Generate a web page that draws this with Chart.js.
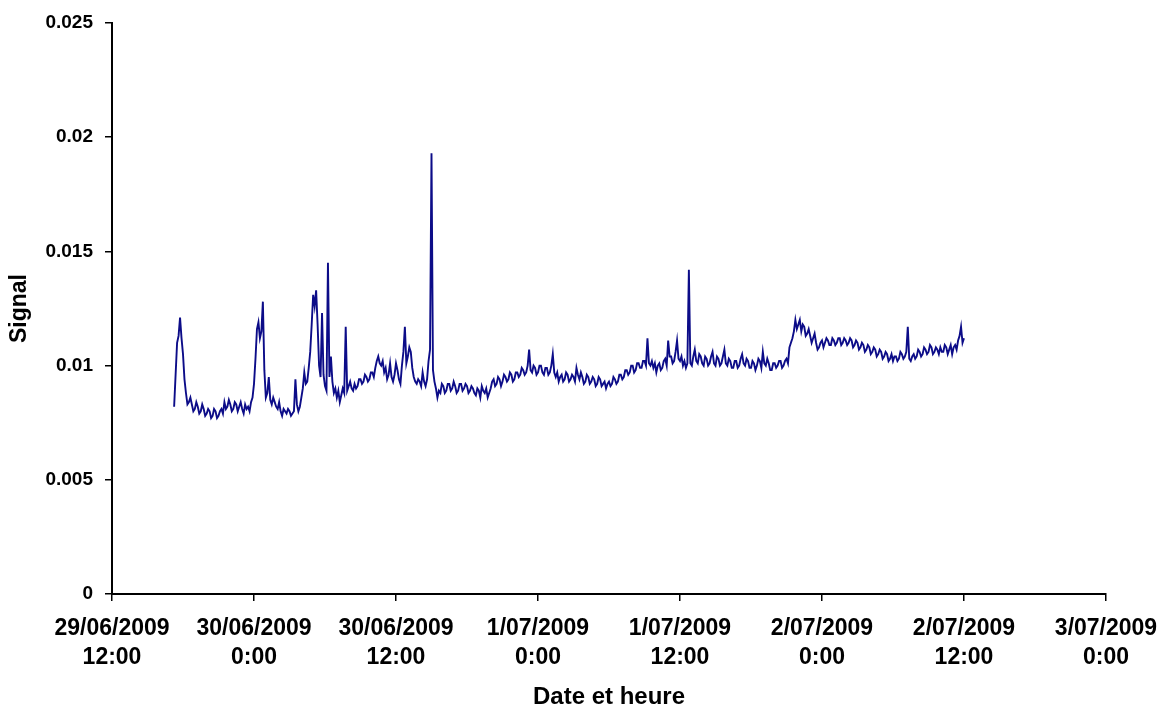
<!DOCTYPE html>
<html>
<head>
<meta charset="utf-8">
<script src="https://cdn.jsdelivr.net/npm/chart.js@4/dist/chart.umd.min.js"></script>
<style>
  html, body { margin: 0; padding: 0; background: #ffffff; }
  #wrap { width: 1163px; height: 709px; position: relative; }
</style>
</head>
<body>
<div id="wrap"><canvas id="c" width="1163" height="709"></canvas></div>
<script>
// Time axis: hours after 29/06/2009 12:00
const xTickLabels = [
  ['29/06/2009', '12:00'], ['30/06/2009', '0:00'], ['30/06/2009', '12:00'], ['1/07/2009', '0:00'],
  ['1/07/2009', '12:00'], ['2/07/2009', '0:00'], ['2/07/2009', '12:00'], ['3/07/2009', '0:00']
];
const yTickLabels = ['0', '0.005', '0.01', '0.015', '0.02', '0.025'];

// Logger samples every 7.5 minutes starting 29/06/2009 17:15 (5.25 h)
const sampleStartHour = 5.25;
const sampleStepHour = 0.125;

const signal = [
  0.0082, 0.0096, 0.0110, 0.0113, 0.0121, 0.0112, 0.0105, 0.0094, 0.0088, 0.0083,
  0.0084, 0.0086, 0.0083, 0.0080, 0.0081, 0.0084, 0.0082, 0.0079, 0.0080, 0.0083,
  0.0081, 0.0078, 0.0079, 0.0081, 0.0080, 0.0077, 0.0078, 0.0081, 0.0080, 0.0077,
  0.0078, 0.0080, 0.0081, 0.0079, 0.0084, 0.0081, 0.0082, 0.0085, 0.0083, 0.0080,
  0.0081, 0.0084, 0.0083, 0.0080, 0.0082, 0.0084, 0.0081, 0.0079, 0.0083, 0.0081,
  0.0082, 0.0080, 0.0084, 0.0086, 0.0092, 0.0103, 0.0116, 0.0119, 0.0112, 0.0115,
  0.0128, 0.0098, 0.0086, 0.0088, 0.0095, 0.0085, 0.0083, 0.0086, 0.0084, 0.0082,
  0.0081, 0.0084, 0.0080, 0.0078, 0.0081, 0.0080, 0.0079, 0.0081, 0.0080, 0.0078,
  0.0079, 0.0080, 0.0094, 0.0083, 0.0080, 0.0082, 0.0086, 0.0090, 0.0097, 0.0092,
  0.0093, 0.0099, 0.0106, 0.0118, 0.0131, 0.0126, 0.0133, 0.0118, 0.0100, 0.0095,
  0.0123, 0.0096, 0.0091, 0.0089, 0.0145, 0.0095, 0.0104, 0.0093, 0.0088, 0.0090,
  0.0086, 0.0089, 0.0084, 0.0087, 0.0090, 0.0088, 0.0117, 0.0089, 0.0091, 0.0093,
  0.0090, 0.0089, 0.0092, 0.0090, 0.0091, 0.0094, 0.0094, 0.0092, 0.0093, 0.0096,
  0.0095, 0.0093, 0.0094, 0.0097, 0.0097, 0.0095, 0.0099, 0.0102, 0.0104, 0.0101,
  0.0100, 0.0102, 0.0097, 0.0099, 0.0094, 0.0096, 0.0101, 0.0095, 0.0093, 0.0096,
  0.0101, 0.0098, 0.0094, 0.0092, 0.0100, 0.0106, 0.0117, 0.0101, 0.0104, 0.0108,
  0.0106, 0.0099, 0.0095, 0.0093, 0.0092, 0.0094, 0.0093, 0.0091, 0.0097, 0.0093,
  0.0091, 0.0094, 0.0102, 0.0107, 0.0193, 0.0098, 0.0093, 0.0090, 0.0086, 0.0089,
  0.0088, 0.0092, 0.0091, 0.0088, 0.0089, 0.0092, 0.0092, 0.0089, 0.0090, 0.0093,
  0.0091, 0.0088, 0.0089, 0.0092, 0.0092, 0.0089, 0.0090, 0.0092, 0.0091, 0.0088,
  0.0089, 0.0091, 0.0090, 0.0088, 0.0087, 0.0090, 0.0089, 0.0086, 0.0091, 0.0089,
  0.0088, 0.0090, 0.0086, 0.0088, 0.0090, 0.0093, 0.0094, 0.0091, 0.0092, 0.0095,
  0.0094, 0.0091, 0.0093, 0.0096, 0.0095, 0.0093, 0.0094, 0.0097, 0.0096, 0.0093,
  0.0094, 0.0097, 0.0097, 0.0095, 0.0096, 0.0099, 0.0098, 0.0096, 0.0097, 0.0100,
  0.0107, 0.0098, 0.0097, 0.0100, 0.0099, 0.0096, 0.0097, 0.0100, 0.0100, 0.0097,
  0.0096, 0.0099, 0.0099, 0.0096, 0.0097, 0.0100, 0.0105, 0.0097, 0.0095, 0.0097,
  0.0093, 0.0095, 0.0096, 0.0093, 0.0094, 0.0097, 0.0096, 0.0093, 0.0094, 0.0096,
  0.0095, 0.0093, 0.0099, 0.0096, 0.0094, 0.0097, 0.0095, 0.0092, 0.0093, 0.0096,
  0.0095, 0.0092, 0.0093, 0.0095, 0.0094, 0.0091, 0.0092, 0.0095, 0.0094, 0.0091,
  0.0092, 0.0093, 0.0090, 0.0092, 0.0093, 0.0091, 0.0092, 0.0095, 0.0094, 0.0092,
  0.0093, 0.0096, 0.0096, 0.0094, 0.0095, 0.0098, 0.0098, 0.0096, 0.0097, 0.0100,
  0.0100, 0.0097, 0.0098, 0.0101, 0.0101, 0.0099, 0.0099, 0.0102, 0.0102, 0.0100,
  0.0112, 0.0101, 0.0100, 0.0102, 0.0099, 0.0101, 0.0097, 0.0100, 0.0101, 0.0098,
  0.0099, 0.0102, 0.0103, 0.0100, 0.0111, 0.0104, 0.0104, 0.0101, 0.0102, 0.0106,
  0.0111, 0.0103, 0.0102, 0.0104, 0.0100, 0.0102, 0.0099, 0.0101, 0.0142, 0.0101,
  0.0100, 0.0104, 0.0107, 0.0102, 0.0101, 0.0105, 0.0104, 0.0101, 0.0100, 0.0104,
  0.0103, 0.0100, 0.0101, 0.0104, 0.0106, 0.0101, 0.0100, 0.0104, 0.0103, 0.0100,
  0.0101, 0.0104, 0.0107, 0.0101, 0.0100, 0.0103, 0.0102, 0.0099, 0.0099, 0.0102,
  0.0102, 0.0099, 0.0100, 0.0103, 0.0105, 0.0101, 0.0100, 0.0103, 0.0102, 0.0099,
  0.0099, 0.0102, 0.0101, 0.0098, 0.0100, 0.0103, 0.0102, 0.0099, 0.0106, 0.0101,
  0.0100, 0.0103, 0.0101, 0.0098, 0.0098, 0.0101, 0.0101, 0.0099, 0.0100, 0.0102,
  0.0102, 0.0099, 0.0100, 0.0102, 0.0103, 0.0101, 0.0108, 0.0110, 0.0112, 0.0115,
  0.0120, 0.0116, 0.0118, 0.0120, 0.0115, 0.0118, 0.0117, 0.0113, 0.0114, 0.0116,
  0.0113, 0.0110, 0.0112, 0.0114, 0.0110, 0.0107, 0.0108, 0.0110, 0.0111, 0.0108,
  0.0110, 0.0112, 0.0111, 0.0109, 0.0109, 0.0112, 0.0111, 0.0109, 0.0110, 0.0112,
  0.0112, 0.0109, 0.0110, 0.0112, 0.0111, 0.0109, 0.0110, 0.0112, 0.0111, 0.0108,
  0.0109, 0.0111, 0.0110, 0.0107, 0.0108, 0.0110, 0.0109, 0.0106, 0.0107, 0.0109,
  0.0108, 0.0105, 0.0106, 0.0108, 0.0107, 0.0104, 0.0105, 0.0107, 0.0106, 0.0103,
  0.0104, 0.0106, 0.0105, 0.0102, 0.0103, 0.0105, 0.0102, 0.0104, 0.0104, 0.0102,
  0.0103, 0.0106, 0.0105, 0.0103, 0.0104, 0.0106, 0.0117, 0.0103, 0.0102, 0.0104,
  0.0105, 0.0103, 0.0104, 0.0107, 0.0106, 0.0104, 0.0105, 0.0108, 0.0107, 0.0105,
  0.0106, 0.0109, 0.0108, 0.0105, 0.0106, 0.0108, 0.0107, 0.0105, 0.0108, 0.0106,
  0.0106, 0.0109, 0.0108, 0.0105, 0.0107, 0.0109, 0.0105, 0.0108, 0.0109, 0.0107,
  0.0111, 0.0113, 0.0117, 0.0110, 0.0112
];

const points = signal.map((v, i) => ({ x: sampleStartHour + i * sampleStepHour, y: v }));

const FONT = "'Liberation Sans', Arial, sans-serif";

new Chart(document.getElementById('c'), {
  type: 'line',
  data: {
    datasets: [{
      data: points,
      borderColor: '#0c0c88',
      borderWidth: 1.9,
      pointRadius: 0,
      tension: 0,
      fill: false
    }]
  },
  options: {
    responsive: false,
    animation: false,
    layout: { padding: { top: 23, right: 57, left: 0, bottom: 0 } },
    plugins: { legend: { display: false }, tooltip: { enabled: false } },
    scales: {
      x: {
        type: 'linear',
        min: 0,
        max: 84,
        border: { display: true, color: '#000', width: 2 },
        grid: { display: true, drawOnChartArea: false, drawTicks: true, tickLength: 7, color: '#000', lineWidth: 1.5 },
        ticks: {
          stepSize: 12,
          autoSkip: false,
          maxRotation: 0,
          padding: 13,
          color: '#000',
          font: { family: FONT, size: 23, weight: 'bold', lineHeight: 1.27 },
          callback: (v) => xTickLabels[Math.round(v / 12)]
        },
        title: {
          display: true,
          text: 'Date et heure',
          color: '#000',
          font: { family: FONT, size: 24, weight: 'bold', lineHeight: 1 },
          padding: { top: 0, bottom: 0 }
        },
        afterFit: (s) => { s.height = 115; s.paddingLeft = 0; s.paddingRight = 0; }
      },
      y: {
        min: 0,
        max: 0.025,
        border: { display: true, color: '#000', width: 2 },
        grid: { display: true, drawOnChartArea: false, drawTicks: true, tickLength: 7, color: '#000', lineWidth: 1.5 },
        ticks: {
          stepSize: 0.005,
          padding: 12,
          color: '#000',
          font: { family: FONT, size: 19, weight: 'bold' },
          callback: (v) => yTickLabels[Math.round(v / 0.005)]
        },
        title: {
          display: true,
          text: 'Signal',
          color: '#000',
          font: { family: FONT, size: 23, weight: 'bold', lineHeight: 1.2 },
          padding: { top: 6, bottom: 0 }
        },
        afterFit: (s) => { s.width = 112; s.paddingTop = 0; s.paddingBottom = 0; }
      }
    }
  }
});
</script>
</body>
</html>
